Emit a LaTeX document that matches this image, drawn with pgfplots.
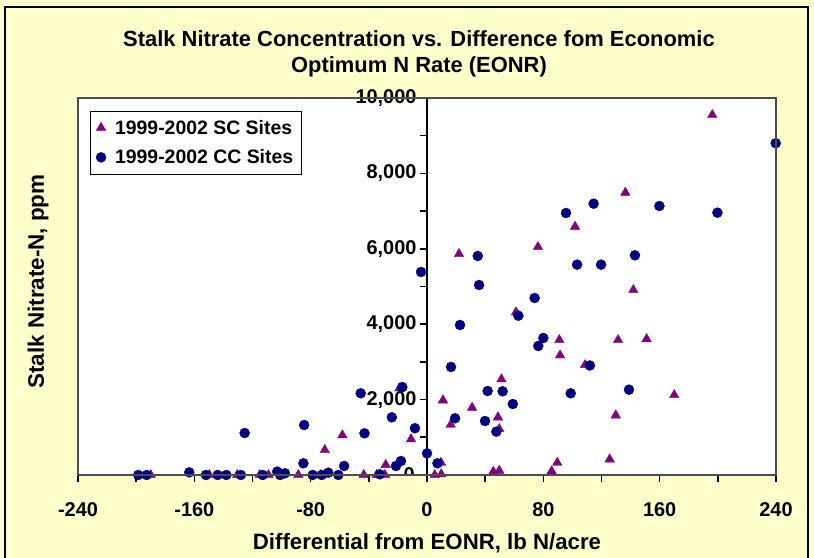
\documentclass[border=0pt]{standalone}
\usepackage{pgfplots}
\pgfplotsset{compat=1.18}
\usepackage{fontspec}
\setmainfont{Liberation Sans}
\definecolor{bgyellow}{RGB}{255,255,204}
\definecolor{scpurple}{RGB}{128,0,128}
\definecolor{ccnavy}{RGB}{0,0,128}

\pgfplotstableread{
x y
-190 0
-149.7 0
-130.5 0
-115 0
-109 0
-88.5 0
-73 0
-70.3 663
-58.2 1055
-43.5 0
-34.6 0
-28.9 0
-28.4 270
-19 2300
-11 950
5.3 0
9.6 326
9.8 20
11 1981
16.3 1334
22 5862
31 1785
45.6 88
48.8 1530
49.7 114
49.7 1220
51.2 2540
61.2 4316
76.3 6048
85.7 100
89.6 326
91 3581
91.5 3175
101.8 6586
108.7 2918
125.6 416
129.8 1583
131.4 3581
136.4 7488
141.9 4907
151 3607
170 2122
196.2 9549
}\scdata

\pgfplotstableread{
x y
-198.6 0
-192.8 0
-163.5 70
-152 0
-144 0
-138 0
-128 0
-125.4 1114
-113 0
-103 90
-101 0
-97.7 45
-85 310
-84.5 1326
-78.6 0
-72.4 0
-67.9 61
-61 0
-57 239
-45.6 2167
-43 1106
-32.5 19
-24.2 1530
-21.3 239
-17.9 371
-17 2330
-8.3 1240
-4.1 5385
0 575
7.2 310
16.5 2865
19.3 1504
22.7 3979
34.9 5809
35.8 5040
39.9 1432
41.7 2228
47.7 1149
52 2220
59 1883
62.8 4225
74 4695
76.5 3422
80 3634
95.6 6950
98.8 2167
103.2 5579
112 2905
114.6 7197
119.7 5579
138.9 2263
143 5827
159.8 7135
199.7 6958
239.8 8800
}\ccdata

\begin{document}
\begin{tikzpicture}[x=1bp,y=1bp]
\path[use as bounding box] (0,0) rectangle (814,558);
\fill[bgyellow] (0,0) rectangle (814,558);
\draw[line width=1.5bp] (5,-10) rectangle (808,551);
\fill[white] (78,83) rectangle (776,460);
\begin{axis}[
  at={(78bp,83bp)}, anchor=south west,
  width=698bp, height=377bp, scale only axis,
  xmin=-240, xmax=240, ymin=0, ymax=10000,
  axis x line=bottom, axis y line=center,
  axis line style={-, line width=1.6bp},
  xtick={-240,-160,...,240},
  minor xtick={-200,-120,-40,40,120,200},
  ytick={0,2000,...,10000},
  minor ytick={1000,3000,...,9000},
  tick align=outside,
  major tick length=7bp, minor tick length=7bp,
  tick style={line width=1.6bp, black},
  yticklabel pos=left,
  /pgf/number format/assume math mode=true,
  /pgf/number format/1000 sep={,},
  scaled y ticks=false,
  tick label style={font=\bfseries\fontsize{20}{24}\selectfont},
  xticklabel style={yshift=-17bp},
  title={Stalk Nitrate Concentration vs. Difference fom Economic\\Optimum N Rate (EONR)},
  title style={font=\bfseries\fontsize{22}{26}\selectfont, align=center, at={(rel axis cs:0.5,1)}, anchor=center, yshift=38bp, xshift=-8bp},
  xlabel={Differential from EONR, lb N/acre},
  xlabel style={font=\bfseries\fontsize{22.3}{24}\selectfont, at={(rel axis cs:0.5,0)}, anchor=center, yshift=-68bp},
  ylabel={Stalk Nitrate-N, ppm},
  ylabel style={font=\bfseries\fontsize{22.5}{24}\selectfont, at={(rel axis cs:0,0.5)}, anchor=center, rotate=90, yshift=40bp, xshift=5bp},
  legend style={font=\bfseries\fontsize{19.5}{22}\selectfont, draw=black, fill=white, at={(rel axis cs:0.017,0.966)}, anchor=north west, row sep=10bp, inner xsep=6bp, inner ysep=7bp, /tikz/every odd column/.append style={column sep=7bp}},
  legend cell align=left,
]
\addplot[only marks, mark=triangle*, mark size=5.5bp, mark options={draw=scpurple, fill=scpurple}] table[x=x,y=y] {\scdata};
\addlegendentry{1999-2002 SC Sites}
\addplot[only marks, mark=*, mark size=5bp, mark options={draw=ccnavy, fill=ccnavy}] table[x=x,y=y] {\ccdata};
\addlegendentry{1999-2002 CC Sites}
\node[anchor=east, font=\bfseries\fontsize{20}{24}\selectfont, xshift=-10bp, inner sep=2bp] at (axis cs:0,0) {0};
\end{axis}
\draw[line width=1.2bp, black!70] (78,83) rectangle (776,460);
\end{tikzpicture}
\end{document}
